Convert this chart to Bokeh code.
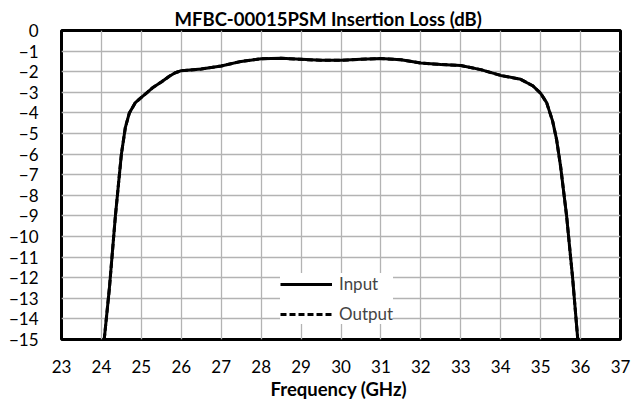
from bokeh.plotting import figure
from bokeh.models import Range1d, FixedTicker, Legend, LegendItem
from bokeh.embed import file_html
from bokeh.resources import INLINE

title_text = "MFBC-00015PSM Insertion Loss (dB)"
x_label = "Frequency  (GHz)"
x_ticks = list(range(23, 38))
y_ticks = list(range(-15, 1))

freq_ghz = [24.07, 24.2, 24.35, 24.5, 24.6, 24.7, 24.85, 25.0, 25.15, 25.3, 25.5, 25.7,
            25.85, 26.0, 26.5, 27.0, 27.5, 28.0, 28.5, 29.0, 29.5, 30.0, 30.5, 31.0,
            31.5, 32.0, 32.5, 33.0, 33.5, 34.0, 34.5, 34.8, 35.0, 35.15, 35.3, 35.4,
            35.5, 35.65, 35.8, 35.93]
input_db = [-15.0, -12.5, -9.0, -6.0, -4.7, -4.0, -3.5, -3.25, -3.0, -2.75, -2.5, -2.22,
            -2.05, -1.95, -1.87, -1.72, -1.5, -1.37, -1.35, -1.4, -1.45, -1.45, -1.4, -1.36,
            -1.42, -1.58, -1.65, -1.7, -1.9, -2.18, -2.37, -2.68, -3.05, -3.5, -4.4, -5.3,
            -6.6, -9.0, -12.0, -15.0]
output_db = list(input_db)

FONT = "Lato"

p = figure(width=636, height=402, output_backend="svg", toolbar_location=None,
           x_range=Range1d(23, 37), y_range=Range1d(-15, 0),
           min_border_left=61, min_border_right=16, min_border_bottom=0, min_border_top=30)

p.title.text = title_text
p.title.align = "left"
p.title.offset = 113
p.title.text_font = FONT
p.title.text_font_size = "18.5px"
p.title.text_font_style = "bold"
p.title.text_color = "black"
p.title.standoff = 2

p.outline_line_color = "black"
p.outline_line_width = 3
p.background_fill_color = "white"
p.border_fill_color = "white"

for ax in (p.xaxis[0], p.yaxis[0]):
    ax.axis_line_color = None
    ax.major_tick_line_color = None
    ax.minor_tick_line_color = None
    ax.major_label_text_font = FONT
    ax.major_label_text_font_size = "17px"
    ax.major_label_text_color = "black"
p.xaxis.major_label_standoff = 14
p.yaxis.major_label_standoff = 17

p.xaxis.ticker = FixedTicker(ticks=x_ticks)
p.yaxis.ticker = FixedTicker(ticks=y_ticks)
p.xaxis.axis_label = x_label
p.xaxis.axis_label_text_font = FONT
p.xaxis.axis_label_text_font_size = "18.5px"
p.xaxis.axis_label_text_font_style = "bold"
p.xaxis.axis_label_text_color = "black"
p.xaxis.axis_label_standoff = 2

p.xgrid.grid_line_color = "#b3b3b3"
p.ygrid.grid_line_color = "#b3b3b3"
p.xgrid.grid_line_width = 1.3
p.ygrid.grid_line_width = 1.3

r_out = p.line(freq_ghz, output_db, line_color="black", line_width=3, line_dash="6 3")
r_in = p.line(freq_ghz, input_db, line_color="black", line_width=3)

legend = Legend(items=[LegendItem(label="Input", renderers=[r_in]),
                       LegendItem(label="Output", renderers=[r_out])],
                location=(219, 15), glyph_width=52, glyph_height=20,
                label_text_font=FONT, label_text_font_size="17px",
                label_standoff=7, spacing=9, padding=8, margin=0,
                border_line_color=None, background_fill_color="white",
                background_fill_alpha=1.0)
p.add_layout(legend, "center")

open("out.html", "w").write(file_html(p, INLINE))
